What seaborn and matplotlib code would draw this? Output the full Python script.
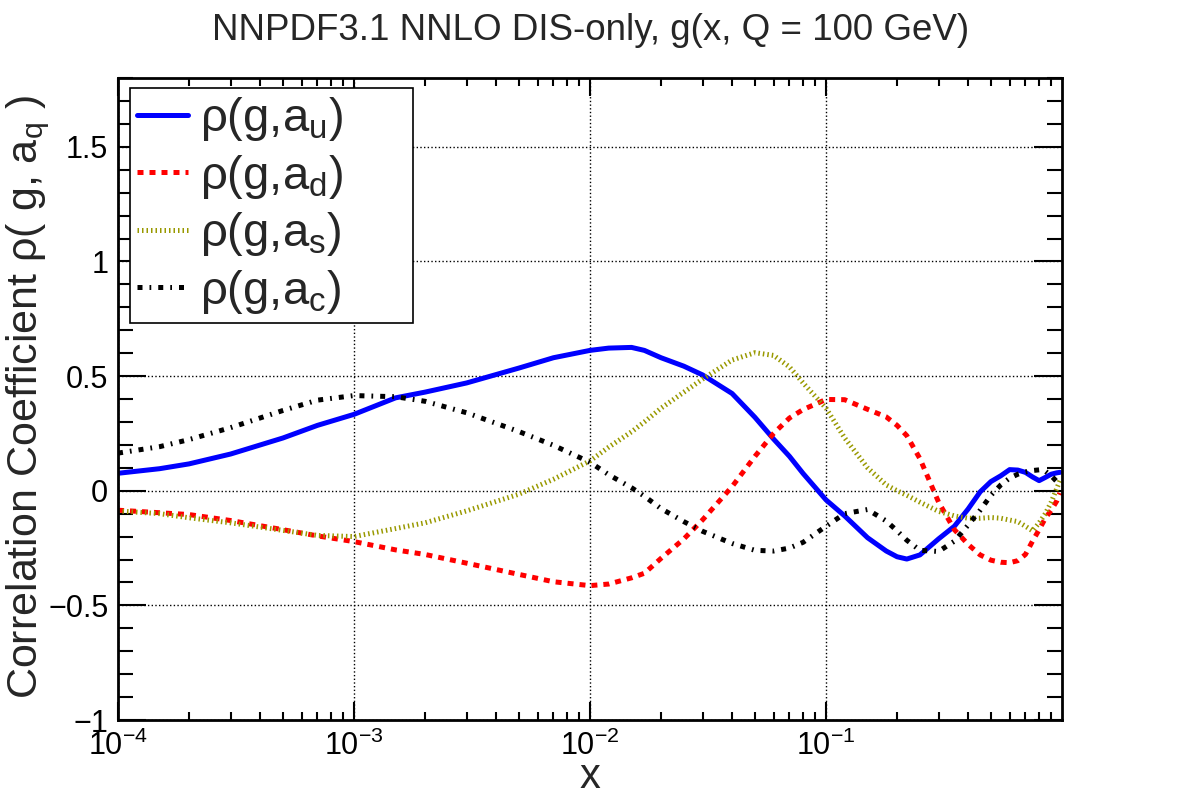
import numpy as np
import pandas as pd
import matplotlib
matplotlib.use("Agg")
import matplotlib.pyplot as plt
import matplotlib.ticker as mticker
import seaborn as sns

# x grid (momentum fraction) shared by all four curves
x_vals = [1e-4, 1.5e-4, 2e-4, 3e-4, 5e-4, 7e-4, 1e-3, 1.5e-3, 2e-3, 3e-3, 5e-3, 7e-3,
          1e-2, 1.2e-2, 1.5e-2, 1.7e-2, 2e-2, 2.5e-2, 3e-2, 4e-2, 5e-2, 6e-2, 7e-2, 8e-2,
          0.1, 0.12, 0.15, 0.18, 0.2, 0.22, 0.25, 0.3, 0.35, 0.4, 0.45, 0.5, 0.55, 0.6,
          0.65, 0.7, 0.75, 0.8, 0.85, 0.9, 0.95, 0.98]

rho_u = [0.076, 0.096, 0.117, 0.16, 0.23, 0.285, 0.333, 0.405, 0.43, 0.47, 0.535, 0.58,
         0.612, 0.622, 0.625, 0.612, 0.58, 0.543, 0.505, 0.424, 0.32, 0.225, 0.15, 0.075,
         -0.04, -0.11, -0.205, -0.263, -0.288, -0.298, -0.28, -0.21, -0.155, -0.08, -0.005,
         0.04, 0.065, 0.092, 0.09, 0.08, 0.06, 0.044, 0.058, 0.072, 0.078, 0.08]

rho_d = [-0.085, -0.096, -0.104, -0.13, -0.17, -0.197, -0.222, -0.258, -0.278, -0.316,
         -0.365, -0.397, -0.414, -0.407, -0.38, -0.36, -0.295, -0.21, -0.127, 0.018, 0.15,
         0.25, 0.317, 0.354, 0.398, 0.397, 0.355, 0.322, 0.285, 0.24, 0.14, -0.05, -0.17,
         -0.234, -0.28, -0.303, -0.312, -0.314, -0.305, -0.278, -0.22, -0.17, -0.12,
         -0.085, -0.045, -0.01]

rho_s = [-0.088, -0.10, -0.118, -0.14, -0.173, -0.195, -0.2, -0.165, -0.14, -0.088,
         -0.015, 0.05, 0.13, 0.19, 0.257, 0.30, 0.36, 0.43, 0.487, 0.57, 0.602, 0.59,
         0.54, 0.47, 0.36, 0.23, 0.10, 0.025, 0.0, -0.02, -0.05, -0.09, -0.11, -0.12,
         -0.12, -0.117, -0.12, -0.128, -0.135, -0.155, -0.175, -0.14, -0.10, -0.05, 0.01,
         0.044]

rho_c = [0.164, 0.192, 0.223, 0.275, 0.35, 0.395, 0.415, 0.41, 0.39, 0.34, 0.258, 0.198,
         0.124, 0.07, 0.013, -0.024, -0.078, -0.135, -0.177, -0.23, -0.26, -0.263, -0.25,
         -0.225, -0.155, -0.10, -0.082, -0.132, -0.175, -0.216, -0.26, -0.265, -0.22,
         -0.15, -0.085, -0.02, 0.025, 0.055, 0.072, 0.082, 0.088, 0.091, 0.085, 0.065,
         0.04, 0.03]

series_names = ["u", "d", "s", "c"]
series_vals = [rho_u, rho_d, rho_s, rho_c]
series_colors = ["#0000ff", "#ff0000", "#999900", "#000000"]
series_dashes = ["", (1.2, 1.2), (0.3, 0.6), (1.0, 1.4, 0.35, 1.4)]

title = "NNPDF3.1 NNLO DIS-only, g(x, Q = 100 GeV)"
x_ticks = [1e-4, 1e-3, 1e-2, 1e-1]
y_ticks = [-1, -0.5, 0, 0.5, 1, 1.5]

df = pd.concat([pd.DataFrame({"x": x_vals, "rho": v, "flav": n})
                for n, v in zip(series_names, series_vals)], ignore_index=True)

sns.set_style("ticks")
plt.rcParams.update({
    "font.family": ["Liberation Sans", "DejaVu Sans"],
    "mathtext.fontset": "custom",
    "mathtext.rm": "Liberation Sans",
    "mathtext.it": "Liberation Sans:italic",
    "mathtext.bf": "Liberation Sans:bold",
    "axes.linewidth": 2.0,
    "axes.edgecolor": "black",
})

fig = plt.figure(figsize=(11.82, 8), dpi=100)
fig.patch.set_facecolor("white")
ax = fig.add_axes([118 / 1182, 80 / 800, 944 / 1182, 642 / 800])

sns.lineplot(data=df, x="x", y="rho", hue="flav", style="flav",
             hue_order=series_names, style_order=series_names,
             palette=dict(zip(series_names, series_colors)),
             dashes=dict(zip(series_names, series_dashes)),
             linewidth=3.6, legend=False, ax=ax, sort=False, estimator=None)

ax.set_xscale("log")
ax.set_xlim(1e-4, 1.0)
ax.set_ylim(-1.0, 1.8)

ax.xaxis.set_major_locator(mticker.FixedLocator(x_ticks))
ax.xaxis.set_minor_locator(mticker.LogLocator(base=10, subs=np.arange(2, 10), numticks=20))
ax.xaxis.set_major_formatter(mticker.LogFormatterMathtext())
ax.xaxis.set_minor_formatter(mticker.NullFormatter())
ax.yaxis.set_major_locator(mticker.FixedLocator(y_ticks))
ax.yaxis.set_minor_locator(mticker.MultipleLocator(0.1))
ax.yaxis.set_major_formatter(mticker.FuncFormatter(lambda v, p: ("%g" % v).replace("-", "\u2212")))

ax.tick_params(axis="both", which="both", direction="in", top=True, right=True,
               labelsize=22, colors="black", width=1.5)
ax.tick_params(axis="y", which="major", length=20, pad=7)
ax.tick_params(axis="y", which="minor", length=11)
ax.tick_params(axis="x", which="major", length=13, pad=8)
ax.tick_params(axis="x", which="minor", length=6)

ax.grid(True, which="major", color="black", linestyle=":", linewidth=1.0)

ax.set_xlabel("x", fontsize=30, labelpad=-4)
ax.set_ylabel("Correlation Coefficient \u03c1( g, a$_\\mathregular{q}$ )", fontsize=31,
              va="center")
ax.yaxis.set_label_coords(-0.095, 0.503)
fig.text(0.5, 0.962, title, ha="center", va="center", fontsize=26.5)

labels = ["\u03c1(g,a$_\\mathregular{%s}$)" % n for n in series_names]
leg = ax.legend(ax.get_lines()[:4], labels, loc="upper left", mode="expand",
                bbox_to_anchor=(0.0127, 0.5, 0.2998, 0.484), borderaxespad=0, fontsize=34,
                frameon=True, fancybox=False, edgecolor="black", framealpha=1,
                handlelength=1.08, handletextpad=0.25, labelspacing=0.2, borderpad=0.15)
leg.get_frame().set_linewidth(1.2)

fig.savefig("out.png", dpi=100, facecolor="white")
